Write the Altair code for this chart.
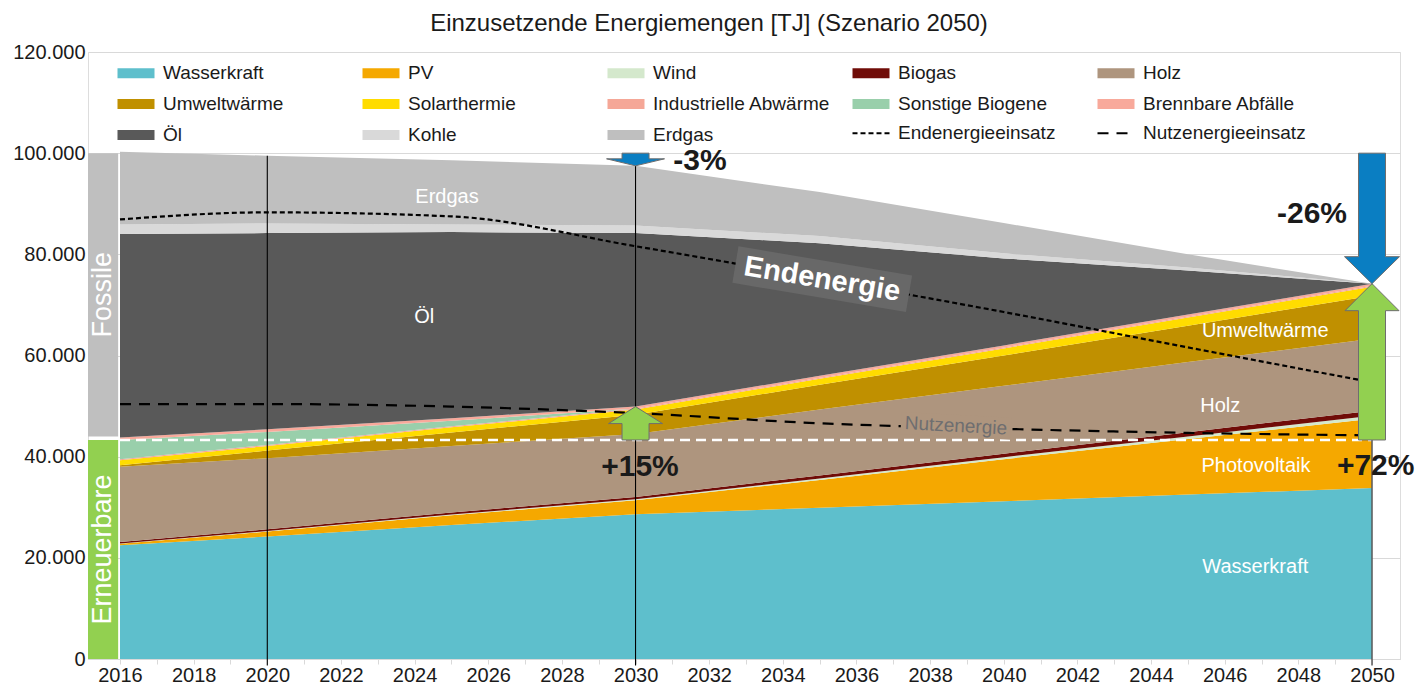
import altair as alt
import pandas as pd

# ---------------- data (TJ) ----------------
jahre = [2016, 2020, 2025, 2030, 2035, 2040, 2045, 2050]
quellen = ["Wasserkraft", "PV", "Wind", "Biogas", "Holz", "Umweltwärme", "Solarthermie",
           "Industrielle Abwärme", "Sonstige Biogene", "Brennbare Abfälle", "Öl", "Kohle", "Erdgas"]
farben = ["#5ebfcc", "#f5a800", "#d4e8cc", "#700c08", "#ae957e", "#c09000", "#ffdc00",
          "#f5a797", "#99cfab", "#f8a99b", "#595959", "#d9d9d9", "#bfbfbf"]

wasserkraft = [22500, 24200, 26500, 28600, 29900, 31200, 32500, 33800]
pv = [300, 1000, 1900, 2800, 5500, 8300, 11000, 13700]
wind = [50, 100, 150, 200, 300, 400, 500, 600]
biogas = [300, 350, 400, 450, 600, 700, 850, 1000]
holz = [14850, 14050, 13150, 12450, 13000, 13400, 13850, 14200]
umweltwaerme = [300, 1500, 2700, 3800, 4900, 6000, 7200, 8500]
solarthermie = [1000, 900, 1000, 1000, 1200, 1400, 1600, 1800]
ind_abwaerme = [200, 200, 200, 200, 200, 200, 200, 200]
sonst_biogene = [3800, 2600, 1100, 0, 0, 0, 0, 0]
brennbare = [500, 500, 500, 400, 400, 400, 400, 400]
oel = [40200, 38800, 36800, 34300, 26200, 17200, 8700, 0]
kohle = [1900, 1900, 1500, 1500, 1400, 1000, 600, 0]
erdgas = [14400, 13400, 12700, 11800, 8700, 6000, 2600, 0]

endenergie = [86900, 88300, 87500, 81600, 75200, 68600, 61600, 54700]
nutzenergie = [50400, 50400, 49900, 48600, 46600, 45500, 44700, 44200]
erneuerbar_2016 = 43300

linien = ["Endenergieeinsatz", "Nutzenergieeinsatz"]
x_ticks = list(range(2016, 2051))
y_ticks = [0, 20000, 40000, 60000, 80000, 100000, 120000]

titel = "Einzusetzende Energiemengen [TJ] (Szenario 2050)"
schicht_labels = ["Erdgas", "Öl", "Umweltwärme", "Holz", "Photovoltaik", "Wasserkraft"]
schicht_x = [2024.88, 2024.26, 2047.10, 2045.88, 2046.85, 2046.83]
schicht_y = [91400, 67600, 64800, 50000, 38200, 18100]
pct_labels = ["-3%", "+15%", "-26%", "+72%"]
pct_x = [2031.75, 2030.12, 2048.37, 2050.10]
pct_y = [98500, 38000, 87900, 38200]

# ---------------- layout ----------------
W, H = 1312, 607
X0, X1 = 2015.131, 2050.76
PXV = H / 120000.0
FONT = "Liberation Sans"

serien = [wasserkraft, pv, wind, biogas, holz, umweltwaerme, solarthermie, ind_abwaerme,
          sonst_biogene, brennbare, oel, kohle, erdgas]
gesamt = [sum(s[i] for s in serien) for i in range(len(jahre))]
erneuerbar = [sum(s[i] for s in serien[:10]) for i in range(len(jahre))]

xscale = alt.Scale(domain=[X0, X1], nice=False, zero=False)
yscale = alt.Scale(domain=[0, 120000], nice=False, zero=False)

x_axis = alt.Axis(values=x_ticks, labelExpr="datum.value % 2 == 0 ? '' + datum.value : ''",
                  grid=False, domainColor="#d9d9d9", tickColor="#d9d9d9", tickSize=5,
                  labelFontSize=20, labelFont=FONT, labelColor="#1a1a1a", labelPadding=1,
                  labelOverlap=False, labelFlush=False, title=None)
y_axis = alt.Axis(values=y_ticks, labelExpr="replace(format(datum.value, ',d'), ',', '.')",
                  domain=False, ticks=False, grid=True, gridColor="#d9d9d9", gridWidth=1,
                  labelFontSize=20, labelFont=FONT, labelColor="#1a1a1a", labelPadding=3,
                  title=None)


def X(f="Jahr"):
    return alt.X(f"{f}:Q", scale=xscale, axis=x_axis, title=None)


def Y(f="Wert", stack=None):
    return alt.Y(f"{f}:Q", scale=yscale, axis=y_axis, title=None, stack=stack)


# stacked areas
rows = []
for i, (name, vals) in enumerate(zip(quellen, serien)):
    for j, v in zip(jahre, vals):
        rows.append({"Jahr": j, "Quelle": name, "Wert": v, "idx": i})
area_df = pd.DataFrame(rows)

areas = alt.Chart(area_df).mark_area(opacity=1, interpolate="linear").encode(
    x=X(),
    y=Y(stack="zero"),
    color=alt.Color("Quelle:N", scale=alt.Scale(domain=quellen, range=farben),
                    sort=quellen,
                    legend=alt.Legend(title=None, orient="none", legendX=38.5, legendY=11.5,
                                      columns=5, direction="horizontal",
                                      symbolType="M-3.7,-1H3.7V1H-3.7Z", symbolSize=100,
                                      symbolStrokeWidth=0, labelFontSize=19, labelFont=FONT,
                                      labelColor="#1a1a1a", labelOffset=17.5, columnPadding=22,
                                      rowPadding=11, gridAlign="all", labelLimit=300, padding=0)),
    order=alt.Order("idx:Q", sort="ascending"),
)


def block(name, y0, y1, farbe):
    df = pd.DataFrame({"Jahr": [X0], "Jahr2": [2015.95], "Wert": [y0], "Wert2": [y1],
                       "Mitte": [(y0 + y1) / 2], "xm": [2015.54], "t": [name]})
    r = alt.Chart(df).mark_rect(color=farbe).encode(x=X(), x2="Jahr2:Q", y=Y(), y2="Wert2:Q")
    t = alt.Chart(df).mark_text(angle=270, color="white", fontSize=27, font=FONT,
                                align="center", baseline="middle").encode(
        x=X("xm"), y=Y("Mitte"), text="t:N")
    return [r, t]


blocks = block("Fossile", 44000, 100000, "#bfbfbf") + block("Erneuerbare", 0, erneuerbar_2016, "#92d050")

# white dashed reference line (renewables 2016)
ref_df = pd.DataFrame({"Jahr": [jahre[0]], "Jahr2": [2050.15], "Wert": [erneuerbar_2016]})
ref_line = alt.Chart(ref_df).mark_rule(color="white", strokeWidth=2.5, strokeDash=[10, 6]).encode(
    x=X(), x2="Jahr2:Q", y=Y())


# vertical lines
def vlinie(jahr, farbe, breite):
    df = pd.DataFrame({"Jahr": [jahr], "Wert": [gesamt[jahre.index(jahr)]], "Wert2": [-1300]})
    return alt.Chart(df).mark_rule(color=farbe, strokeWidth=breite).encode(x=X(), y=Y(), y2="Wert2:Q")


vlines = [vlinie(2020, "#000000", 1.1), vlinie(2030, "#000000", 1.1), vlinie(2050, "#595959", 1.5)]

# energy lines
lrows = []
for name, vals in zip(linien, [endenergie, nutzenergie]):
    for j, v in zip(jahre, vals):
        lrows.append({"Jahr": j, "Wert": v, "Linie": name})
line_df = pd.DataFrame(lrows)
lines = alt.Chart(line_df).mark_line(color="black", strokeWidth=2.2, interpolate="monotone").encode(
    x=X(), y=Y(),
    strokeDash=alt.StrokeDash("Linie:N", scale=alt.Scale(domain=linien, range=[[5, 3], [11, 8]]),
                              legend=alt.Legend(title=None, orient="none", legendX=773.5, legendY=71.5,
                                                columns=2, direction="horizontal",
                                                symbolType="M-3.7,0H3.7", symbolSize=100,
                                                symbolStrokeColor="black", symbolStrokeWidth=2,
                                                symbolFillColor="transparent",
                                                labelFontSize=19, labelFont=FONT, labelColor="#1a1a1a",
                                                labelOffset=17.5, columnPadding=38, labelLimit=300,
                                                padding=0)),
)

# label boxes
end_df = pd.DataFrame({"Jahr": [2035.07], "Wert": [75100], "t": ["Endenergie"]})
end_box = alt.Chart(end_df).mark_point(shape="M-0.88,-0.185H0.88V0.185H-0.88Z", size=40000,
                                       filled=True, fill="#686868", color="#686868",
                                       strokeWidth=0, opacity=1, angle=9.5).encode(x=X(), y=Y())
end_text = alt.Chart(end_df).mark_text(angle=9.5, color="white", fontSize=29, fontWeight="bold",
                                       font=FONT, align="center", baseline="middle").encode(
    x=X(), y=Y(), text="t:N")

nutz_df = pd.DataFrame({"Jahr": [2038.70], "Wert": [46100], "t": ["Nutzenergie"]})
nutz_box = alt.Chart(nutz_df).mark_point(shape="M-0.55,-0.11H0.55V0.11H-0.55Z", size=40000,
                                         filled=True, fill="#ae957e", color="#ae957e",
                                         strokeWidth=0, opacity=1, angle=3).encode(x=X(), y=Y())
nutz_text = alt.Chart(nutz_df).mark_text(angle=3, color="#6e6e70", fontSize=19, font=FONT,
                                         align="center", baseline="middle").encode(
    x=X(), y=Y(), text="t:N")

# layer labels
sl_df = pd.DataFrame({"Jahr": schicht_x, "Wert": schicht_y, "t": schicht_labels})
sl_text = alt.Chart(sl_df).mark_text(color="white", fontSize=20, font=FONT, align="center",
                                     baseline="middle").encode(x=X(), y=Y(), text="t:N")


# arrows
def pfeil_pfad(laenge, kopf, kopf_halb, schaft_halb, nach_unten):
    d = -1 if nach_unten else 1
    pts = [(0, 0), (-kopf_halb, d * kopf), (-schaft_halb, d * kopf), (-schaft_halb, d * laenge),
           (schaft_halb, d * laenge), (schaft_halb, d * kopf), (kopf_halb, d * kopf)]
    return "M" + "L".join(f"{x / 100:.4f},{y / 100:.4f}" for x, y in pts) + "Z"


def pfeil(jahr, von, bis, farbe, kopf, kopf_halb):
    laenge = abs(von - bis) * PXV
    pfad = pfeil_pfad(laenge, kopf, kopf_halb, 13.5, bis < von)
    df = pd.DataFrame({"Jahr": [jahr], "Wert": [bis]})
    return alt.Chart(df).mark_point(shape=pfad, size=40000, filled=True, fill=farbe, color=farbe,
                                    stroke="#6e6e6e", strokeWidth=1, opacity=1).encode(x=X(), y=Y())


i30, i50 = jahre.index(2030), jahre.index(2050)
arrows = [
    pfeil(2030, 100000, gesamt[i30], "#0a7ec2", 7, 29),
    pfeil(2030, erneuerbar_2016, erneuerbar[i30], "#92d050", 17, 27),
    pfeil(2050, 100000, gesamt[i50], "#0a7ec2", 27, 27.5),
    pfeil(2050, erneuerbar_2016, erneuerbar[i50], "#92d050", 27, 27),
]

pct_df = pd.DataFrame({"Jahr": pct_x, "Wert": pct_y, "t": pct_labels})
pct_text = alt.Chart(pct_df).mark_text(color="#1a1a1a", fontSize=30, fontWeight="bold", font=FONT,
                                       align="center", baseline="middle").encode(
    x=X(), y=Y(), text="t:N")

chart = alt.layer(
    areas, *blocks, ref_line, *vlines, lines, end_box, end_text, nutz_box, nutz_text,
    sl_text, *arrows, pct_text
).properties(
    width=W, height=H,
    autosize=alt.AutoSizeParams(type="none"),
    padding={"left": 80, "top": 44, "right": 15, "bottom": 27},
    title=alt.TitleParams(titel, fontSize=24, fontWeight="normal", font=FONT, color="#1a1a1a",
                          anchor="middle", dx=-35, offset=6),
).configure_view(stroke=None).configure(background="white")

chart.save("out.html", embed_options={"renderer": "svg", "actions": False})
